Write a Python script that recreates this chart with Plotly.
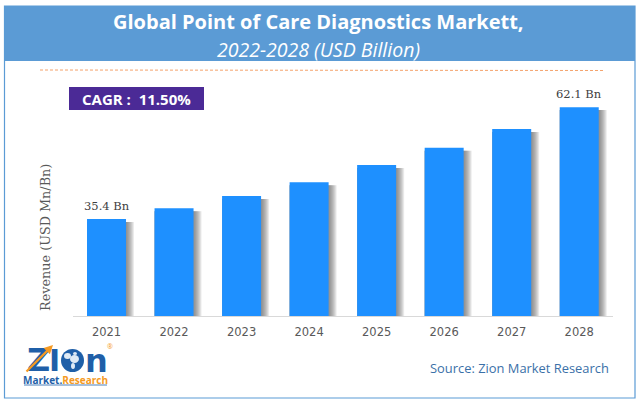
import plotly.graph_objects as go

years = ["2021", "2022", "2023", "2024", "2025", "2026", "2027", "2028"]
revenue = [35.4, 38.0, 40.9, 44.2, 48.3, 52.4, 56.9, 62.1]
value_labels = {"2021": "35.4 Bn", "2028": "62.1 Bn"}

W, H = 640, 406
PX = lambda x: x / W
PY = lambda y: 1 - y / H

BAR_BLUE = "#1e90ff"
FRAME = "#5b9bd5"
LOGO_BLUE = "#1f5fa8"
LOGO_ORANGE = "#f59a23"
PLOT_L, PLOT_R, PLOT_T, PLOT_B = 72.75, 613, 100, 316
CAT_PX = (PLOT_R - PLOT_L) / len(years)
BAR_W = 39 / CAT_PX

fig = go.Figure()

# soft shadow on the right of each bar
for k in range(8, 0, -1):
    fig.add_trace(go.Bar(
        x=years, y=[v - 0.7 for v in revenue],
        width=BAR_W + k / CAT_PX, offset=-BAR_W / 2,
        marker=dict(color="rgba(90,90,90,0.12)", line_width=0),
        hoverinfo="skip", showlegend=False))

fig.add_trace(go.Bar(
    x=years, y=revenue, width=BAR_W, offset=-BAR_W / 2,
    marker=dict(color=BAR_BLUE, line_width=0), showlegend=False))


def blob(x0, x1, y0, y1, color):
    return dict(type="circle", xref="paper", yref="paper", x0=PX(x0), x1=PX(x1),
                y0=PY(y1), y1=PY(y0), line_width=0, fillcolor=color)


shapes = [
    dict(type="rect", xref="paper", yref="paper", x0=PX(4.5), x1=PX(635), y0=PY(398), y1=PY(6),
         line=dict(color=FRAME, width=1.2), fillcolor="rgba(0,0,0,0)", layer="below"),
    dict(type="rect", xref="paper", yref="paper", x0=PX(4.5), x1=PX(635), y0=PY(61), y1=PY(6),
         line_width=0, fillcolor=FRAME, layer="below"),
    dict(type="line", xref="paper", yref="paper", x0=PX(40), x1=PX(604), y0=PY(70), y1=PY(70.5),
         line=dict(color="#f4a26b", width=1, dash="3px,2px")),
    dict(type="rect", xref="paper", yref="paper", x0=PX(69), x1=PX(204), y0=PY(110), y1=PY(87),
         line_width=0, fillcolor="#4b2a96"),
    # logo globe
    blob(61, 84, 349, 372, LOGO_BLUE),
    blob(64, 71, 353, 359, "#dfeaf5"),
    blob(70, 79, 355, 363, "#dfeaf5"),
    blob(71, 75, 363, 369, "#dfeaf5"),
    blob(73, 77, 352, 355, "#dfeaf5"),
    dict(type="line", xref="paper", yref="paper", x0=PX(24), x1=PX(107), y0=PY(385), y1=PY(385),
         line=dict(color=LOGO_BLUE, width=0.8)),
]


def note(text, x, y, size, color, family, **kw):
    return dict(text=text, xref="paper", yref="paper", x=PX(x), y=PY(y), showarrow=False,
                font=dict(size=size, color=color, family=family),
                xanchor=kw.pop("xanchor", "center"), yanchor="middle", **kw)


SANS = "Open Sans"
annotations = [
    note("<b>Global Point of Care Diagnostics Markett,</b>", 318.5, 21.5, 20, "white", SANS),
    note("<i>2022-2028 (USD Billion)</i>", 318, 50, 19.5, "white", SANS),
    note("<b>CAGR :  11.50%</b>", 136, 98.5, 15, "white", SANS),
    note("Revenue (USD Mn/Bn)", 46, 238, 12.8, "#595959", "DejaVu Serif", textangle=-90),
    note("Source: Zion Market Research", 519, 367.5, 12.9, "#3a70a8", SANS),
    note("<b>Z</b>", 38, 360, 32, LOGO_BLUE, "DejaVu Sans"),
    note("<b>I</b>", 54, 360, 30, LOGO_BLUE, "DejaVu Sans"),
    note("<b>n</b>", 96, 360.5, 32, LOGO_BLUE, "DejaVu Sans"),
    note("®", 110, 346, 7, LOGO_ORANGE, SANS),
    note("<b>Market.<span style='color:%s'>Research</span></b>" % LOGO_ORANGE,
         65.5, 379.5, 10, LOGO_BLUE, SANS),
    dict(text="", xref="paper", yref="paper", x=PX(53), y=PY(345), showarrow=True,
         ax=-28, ay=28, arrowcolor=LOGO_ORANGE, arrowwidth=2.2, arrowhead=2, arrowsize=0.8),
]
for i, (yr, v) in enumerate(zip(years, revenue)):
    if yr in value_labels:
        annotations.append(dict(text=value_labels[yr], x=i, y=v, xref="x", yref="y",
                                showarrow=False, yshift=13, yanchor="middle",
                                font=dict(size=11.5, color="#404040", family="DejaVu Serif")))

fig.update_layout(
    width=W, height=H, margin=dict(l=0, r=0, t=0, b=0),
    paper_bgcolor="white", plot_bgcolor="white",
    barmode="overlay", showlegend=False,
    shapes=shapes, annotations=annotations,
    xaxis=dict(domain=[PX(PLOT_L), PX(PLOT_R)], type="category", showgrid=False,
               range=[-0.5, len(years) - 0.5],
               showline=True, linecolor="#d9d9d9", linewidth=1,
               ticks="outside", ticklen=5, tickcolor="rgba(0,0,0,0)",
               tickfont=dict(size=11.5, color="#595959", family="DejaVu Sans")),
    yaxis=dict(domain=[PY(PLOT_B), PY(PLOT_T)], range=[12.3, 63.8], visible=False),
)

fig.write_html("out.html", config=dict(displayModeBar=False),
               post_script="document.body.style.margin='0';")
